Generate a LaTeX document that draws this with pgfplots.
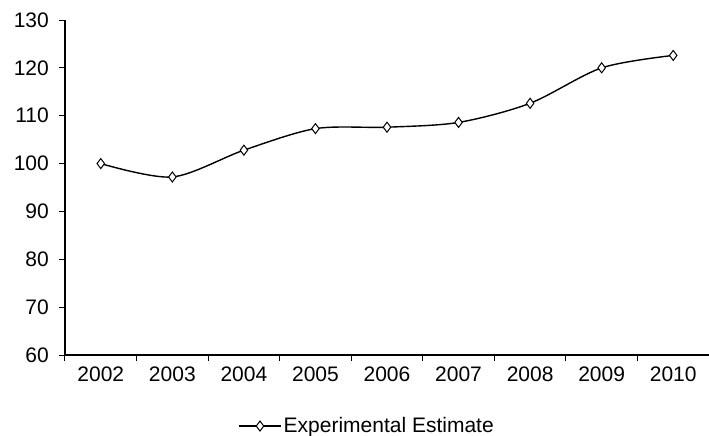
\documentclass[border=0pt]{standalone}
\usepackage{pgfplots}
\pgfplotsset{compat=1.18}
\usepackage{fontspec}
\setmainfont{Liberation Sans}
\begin{document}
\fontsize{21}{25}\selectfont
\begin{tikzpicture}
\begin{axis}[
  at={(0,0)}, anchor=south west,
  scale only axis, width=644pt, height=335pt,
  xmin=-0.5, xmax=8.5, ymin=60, ymax=130,
  axis x line*=bottom, axis y line*=left,
  axis line style={line width=1.5pt},
  xtick={-0.5,0.5,...,8.5}, xticklabels={},
  extra x ticks={0,1,2,3,4,5,6,7,8},
  extra x tick labels={2002,2003,2004,2005,2006,2007,2008,2009,2010},
  extra x tick style={major tick length=0pt},
  ytick={60,70,...,130},
  tick align=outside, major tick length=6pt,
  tick style={line width=1pt, black},
  xticklabel style={yshift=-5pt},
  yticklabel style={xshift=-3pt},
  /pgf/number format/assume math mode=true,
  ticklabel style={font=\fontsize{21}{25}\selectfont},
  legend style={at={(0.469,-0.212)}, anchor=center, draw=none, font=\fontsize{21}{25}\selectfont, inner sep=0pt},
  legend cell align=left,
  legend image code/.code={
    \draw[line width=1.4pt] (0pt,0pt) -- (42pt,0pt);
    \draw[mark options={fill=white, line width=1pt}] plot[mark=diamond*, mark size=5pt] coordinates {(21pt,0pt)};
  },
]
\addplot[black, line width=1.4pt, smooth, tension=0.5, mark=diamond*, mark size=5pt, mark options={fill=white, line width=1pt}]
coordinates {(0,100.0) (1,97.2) (2,102.8) (3,107.3) (4,107.6) (5,108.6) (6,112.6) (7,120.0) (8,122.6)};
\addlegendentry{Experimental Estimate}
\end{axis}
\pgfresetboundingbox
\path[use as bounding box] (-65pt,-81pt) rectangle (644pt,355pt);
\end{tikzpicture}
\end{document}
